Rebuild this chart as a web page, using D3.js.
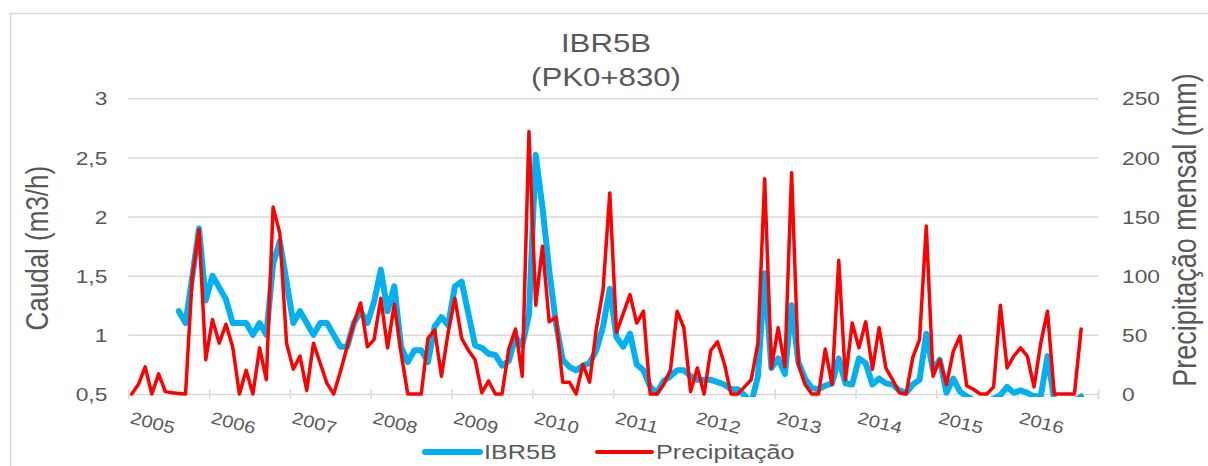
<!DOCTYPE html>
<html>
<head>
<meta charset="utf-8">
<script src="https://cdn.jsdelivr.net/npm/d3@7"></script>
<style>
  body { margin: 0; background: #fff; }
  text { font-family: "Liberation Sans", Arial, sans-serif; fill: #595959; }
</style>
</head>
<body>
<div class="chart"></div>
<script>
// labels do eixo X (um por ano, 12 meses cada)
const years = ['2005','2006','2007','2008','2009','2010','2011','2012','2013','2014','2015','2016'];

// caudal mensal IBR5B (m3/h) - começa em ago/2005
const caudal = [null,null,null,null,null,null,null,
  1.20,1.10,1.49,1.90,1.29,1.50,1.40,1.30,1.10,1.10,1.10,1.00,1.10,1.00,1.60,1.79,1.45,
  1.10,1.20,1.10,1.00,1.10,1.10,1.00,0.90,0.90,1.10,1.20,1.10,1.28,1.55,1.20,1.41,
  0.90,0.77,0.87,0.87,0.77,1.07,1.15,1.08,1.41,1.45,1.18,0.91,0.89,0.84,0.83,0.74,
  0.78,0.98,0.91,1.17,2.52,2.08,1.55,1.10,0.79,0.73,0.70,0.74,0.76,0.87,1.07,1.39,
  0.98,0.90,1.01,0.75,0.70,0.56,0.51,0.61,0.65,0.70,0.70,0.65,0.62,0.62,0.62,0.60,
  0.58,0.54,0.54,0.49,0.42,0.65,1.52,0.72,0.80,0.67,1.25,0.77,0.63,0.55,0.54,0.57,
  0.59,0.80,0.59,0.58,0.80,0.76,0.58,0.63,0.59,0.58,0.53,0.51,0.58,0.62,1.01,0.70,
  0.79,0.51,0.63,0.52,0.48,0.45,0.44,0.44,0.46,0.49,0.56,0.51,0.53,0.51,0.48,0.48,
  0.82,0.45,0.44,0.44,0.44,0.48];

// precipitação mensal (mm)
const precip = [0,8,23,0,17,2,1,0.5,0,99,139,29,
  63,43,59,40,0,20,0,39,12,158,136,43,
  21,32,3,43,26,9,0,19,40,60,77,40,
  46,81,39,76,35,0,0,0,47,54,15,52,
  81,47,37,29,1,11,0,0,38,55,15,222,
  75,125,61,65,10,10,0,25,10,55,88,170,
  52,68,84,60,70,0,0,8,20,70,56,2,
  22,0,37,44,26,0,0,6,12,43,182,22,
  56,23,187,25,8,0,0,38,8,113,12,60,
  39,61,21,56,22,12,1,0,31,46,142,15,
  29,8,36,49,7,4,0,0,6,75,22,32,
  39,32,6,43,70,0,0,0,0,55];

const nMonths = years.length * 12;
const SX = 1.2; // texto ligeiramente largo como no original

const width = 1208, height = 466;
const plot = {left: 128.3, right: 1098, top: 98.3, bottom: 394};

const svg = d3.select('.chart').append('svg')
  .attr('width', width).attr('height', height);

// moldura
svg.append('rect')
  .attr('x', 10.5).attr('y', 13.5)
  .attr('width', width).attr('height', height)
  .attr('fill', 'none').attr('stroke', '#d9d9d9').attr('stroke-width', 1.5);

const x = d3.scaleLinear().domain([0, nMonths]).range([plot.left, plot.right]);
const yL = d3.scaleLinear().domain([0.5, 3]).range([plot.bottom, plot.top]);
const yR = d3.scaleLinear().domain([0, 250]).range([plot.bottom, plot.top]);

const pt = d3.formatLocale({decimal: ',', thousands: '.', grouping: [3], currency: ['', '']});
const fmt = pt.format('~g');

// grelha
const grid = svg.append('g')
  .attr('transform', `translate(${plot.left},0)`)
  .call(d3.axisLeft(yL).tickValues([1, 1.5, 2, 2.5, 3]).tickSize(-(plot.right - plot.left)).tickFormat(''));
grid.select('.domain').remove();
grid.selectAll('line').attr('stroke', '#d9d9d9').attr('stroke-width', 1.5);

// eixo esquerdo
const axL = svg.append('g')
  .attr('transform', `translate(${plot.left},0)`)
  .call(d3.axisLeft(yL).tickValues([0.5, 1, 1.5, 2, 2.5, 3]).tickSize(0).tickFormat(fmt));
axL.select('.domain').remove();
axL.selectAll('text')
  .attr('x', -21).attr('dy', '0.35em')
  .style('font-size', '19px');

// eixo direito
const axR = svg.append('g')
  .attr('transform', `translate(${plot.right},0)`)
  .call(d3.axisRight(yR).tickValues([0, 50, 100, 150, 200, 250]).tickSize(0));
axR.select('.domain').remove();
axR.selectAll('text').attr('x', 24).attr('dy', '0.35em').style('font-size', '19px');

// eixo X
const axX = svg.append('g')
  .attr('transform', `translate(0,${plot.bottom})`)
  .call(d3.axisBottom(x).tickValues(d3.range(0, nMonths + 1, 12)).tickSize(5).tickFormat(''));
axX.select('.domain').attr('stroke', '#d9d9d9').attr('stroke-width', 1.5);
axX.selectAll('.tick line').attr('y1', -5).attr('y2', 5).attr('stroke', '#d9d9d9').attr('stroke-width', 1.5);

svg.append('g').selectAll('text')
  .data(years)
  .join('text')
  .attr('transform', (d, i) => `translate(${x(i * 12) + 1},${plot.bottom + 29}) rotate(14) scale(${SX},1)`)
  .style('font-size', '17px')
  .text(d => d);

// estica texto na horizontal
function stretch(sel) {
  sel.each(function() {
    const t = d3.select(this);
    const xx = +t.attr('x') || 0;
    t.attr('transform', `translate(${xx},0) scale(${SX},1) translate(${-xx},0)`);
  });
}
stretch(axL.selectAll('text'));
stretch(axR.selectAll('text'));

// linhas
svg.append('clipPath').attr('id', 'plotclip')
  .append('rect')
  .attr('x', plot.left).attr('y', plot.top - 10)
  .attr('width', plot.right - plot.left).attr('height', plot.bottom - plot.top + 13);

const lineL = d3.line()
  .defined(d => d != null)
  .x((d, i) => x(i + 0.5))
  .y(d => yL(d));
const lineR = d3.line()
  .x((d, i) => x(i + 0.5))
  .y(d => yR(d));

const lines = svg.append('g').attr('clip-path', 'url(#plotclip)');
lines.append('path')
  .attr('d', lineL(caudal))
  .attr('fill', 'none').attr('stroke', '#00b0f0').attr('stroke-width', 6)
  .attr('stroke-linejoin', 'round').attr('stroke-linecap', 'round');
lines.append('path')
  .attr('d', lineR(precip))
  .attr('fill', 'none').attr('stroke', '#ff0000').attr('stroke-width', 3.5)
  .attr('stroke-linejoin', 'round').attr('stroke-linecap', 'round');

// titulo
const title = svg.append('text')
  .attr('text-anchor', 'middle')
  .attr('transform', `translate(606,0) scale(${SX},1)`)
  .style('font-size', '26px');
title.append('tspan').attr('x', 0).attr('y', 52).text('IBR5B');
title.append('tspan').attr('x', 0).attr('y', 86).text('(PK0+830)');

// titulos dos eixos
svg.append('text')
  .attr('text-anchor', 'middle')
  .attr('transform', `translate(48,${(plot.top + plot.bottom) / 2 + 2}) scale(${SX},1) rotate(-90)`)
  .style('font-size', '26px')
  .text('Caudal (m3/h)');
svg.append('text')
  .attr('text-anchor', 'middle')
  .attr('transform', `translate(1196,230) scale(${SX},1) rotate(-90)`)
  .style('font-size', '27px')
  .text('Precipitação mensal (mm)');

// legenda
const legend = svg.append('g').attr('transform', 'translate(0,452)');
const items = [
  {name: 'IBR5B', color: '#00b0f0', w: 6, x0: 425},
  {name: 'Precipitação', color: '#ff0000', w: 4, x0: 597}
];
legend.selectAll('line').data(items).join('line')
  .attr('x1', d => d.x0).attr('x2', d => d.x0 + 55)
  .attr('y1', 0).attr('y2', 0)
  .attr('stroke', d => d.color).attr('stroke-width', d => d.w)
  .attr('stroke-linecap', 'round');
legend.selectAll('text').data(items).join('text')
  .attr('transform', d => `translate(${d.x0 + 59},0) scale(${SX},1)`)
  .attr('dy', '0.35em')
  .style('font-size', '21px')
  .text(d => d.name);
</script>
</body>
</html>
